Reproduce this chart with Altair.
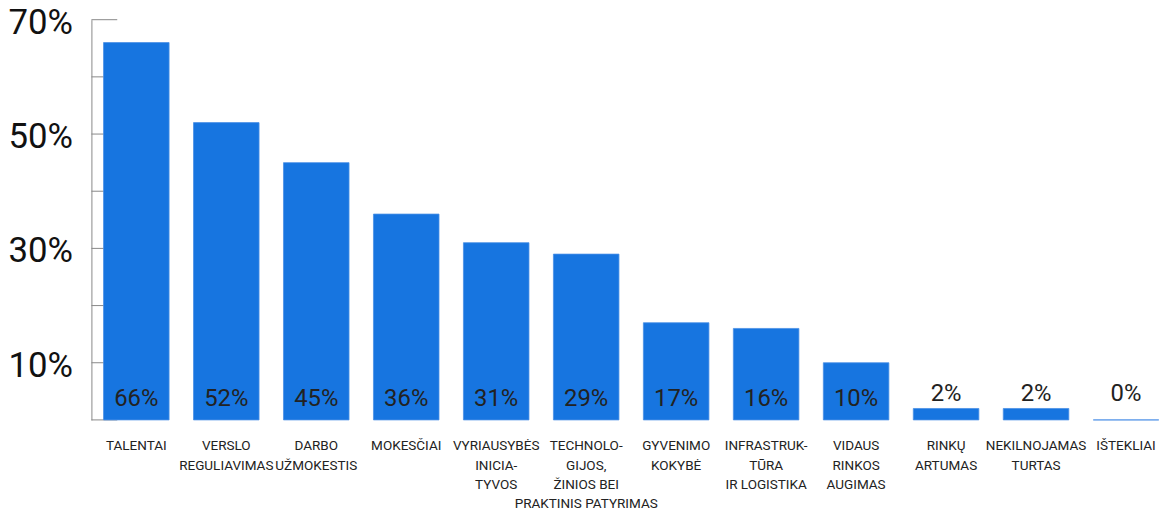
import altair as alt
import pandas as pd

categories = [
    "TALENTAI",
    "VERSLO|REGULIAVIMAS",
    "DARBO|UŽMOKESTIS",
    "MOKESČIAI",
    "VYRIAUSYBĖS|INICIA-|TYVOS",
    "TECHNOLO-|GIJOS,|ŽINIOS BEI|PRAKTINIS PATYRIMAS",
    "GYVENIMO|KOKYBĖ",
    "INFRASTRUK-|TŪRA|IR LOGISTIKA",
    "VIDAUS|RINKOS|AUGIMAS",
    "RINKŲ|ARTUMAS",
    "NEKILNOJAMAS|TURTAS",
    "IŠTEKLIAI",
]
values = [66, 52, 45, 36, 31, 29, 17, 16, 10, 2, 2, 0]
y_label_values = [10, 30, 50, 70]
y_tick_values = [0, 10, 20, 30, 40, 50, 60, 70]

FONT = "Roboto"
BLUE = "#1775e0"

df = pd.DataFrame({"cat": categories, "value": values})
ticks_df = pd.DataFrame({"t": y_tick_values})

x_enc = alt.X(
    "cat:N",
    sort=None,
    scale=alt.Scale(paddingInner=0.2715, paddingOuter=0.074, align=0.91),
    axis=alt.Axis(
        title=None,
        domain=False,
        ticks=False,
        tickSize=0,
        labelAngle=0,
        labelFont=FONT,
        labelFontSize=13.6,
        labelColor="#222222",
        labelPadding=19,
        labelBaseline="top",
        labelLineHeight=19.5,
        labelOverlap=False,
        labelExpr="split(datum.label, '|')",
    ),
)
y_scale = alt.Scale(domain=[0, 70], nice=False, zero=True)

tick_rules = alt.Chart(ticks_df).mark_rule(color="#888888", strokeWidth=1).encode(
    y=alt.Y(
        "t:Q",
        scale=y_scale,
        axis=alt.Axis(
            title=None,
            values=y_label_values,
            ticks=False,
            tickSize=0,
            grid=False,
            domain=True,
            domainColor="#888888",
            domainWidth=1,
            labelFont=FONT,
            labelFontSize=35,
            labelColor="#111111",
            labelPadding=19,
            labelOffset=2.5,
            labelExpr="datum.value + '%'",
        ),
    ),
    x=alt.value(0),
    x2=alt.value(26),
)

bars = alt.Chart(df).mark_bar(color=BLUE, stroke="#4a90e6", strokeWidth=0.8).encode(
    x=x_enc,
    y=alt.Y("value:Q", scale=y_scale, title=None),
)

big_labels = (
    alt.Chart(df)
    .transform_filter("datum.value >= 5")
    .transform_calculate(lab="datum.value + '%'")
    .mark_text(font=FONT, fontSize=24, color="#222222", baseline="middle", align="center")
    .encode(x=alt.X("cat:N", sort=None), y=alt.value(382), text="lab:N")
)
small_labels = (
    alt.Chart(df)
    .transform_filter("datum.value < 5")
    .transform_calculate(lab="datum.value + '%'")
    .mark_text(font=FONT, fontSize=24, color="#222222", baseline="middle", align="center")
    .encode(x=alt.X("cat:N", sort=None), y=alt.value(376.5), text="lab:N")
)

chart = (
    alt.layer(tick_rules, bars, big_labels, small_labels)
    .properties(
        width=1076,
        height=403,
        autosize=alt.AutoSizeParams(type="none"),
        padding={"left": 84, "top": 10, "right": 0, "bottom": 100},
    )
    .configure_view(strokeWidth=0)
)

chart.save("out.html", embed_options={"renderer": "svg", "actions": False})
